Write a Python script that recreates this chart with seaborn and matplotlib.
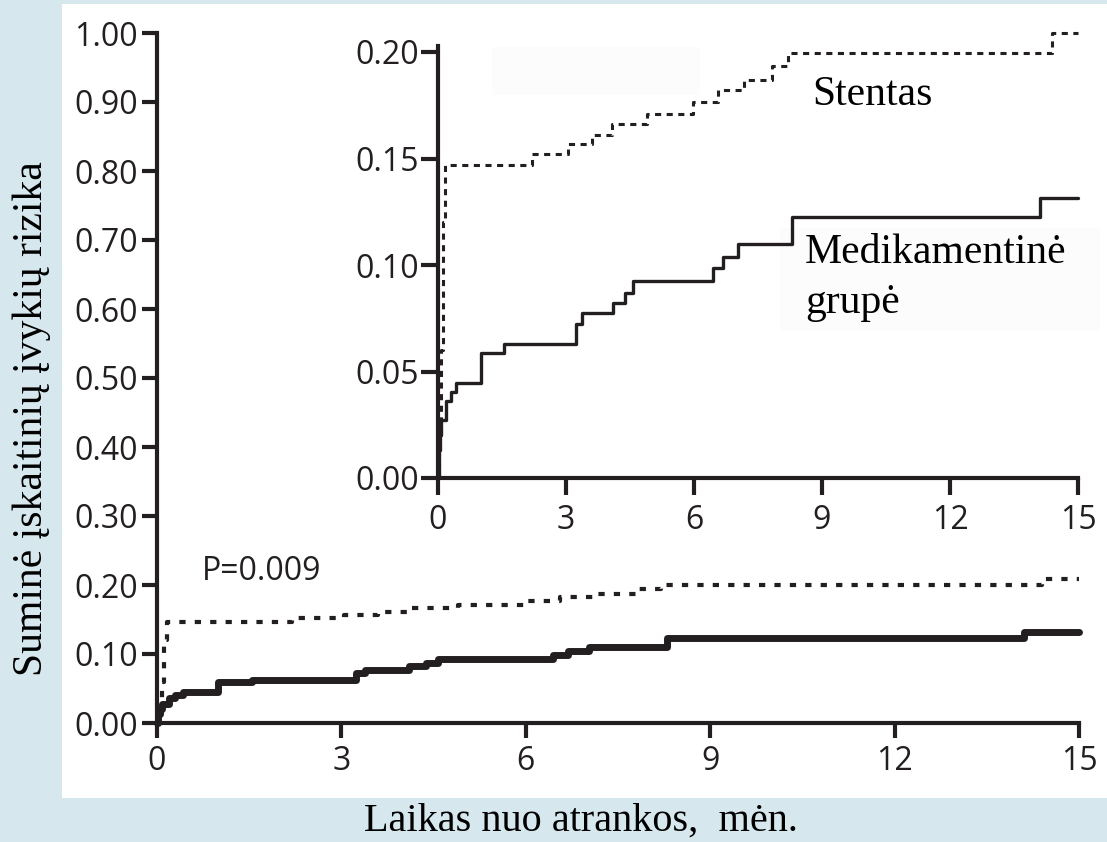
import matplotlib
matplotlib.use("Agg")
import matplotlib.pyplot as plt
import matplotlib.patches as mpatches
import seaborn as sns
import pandas as pd

# ---- data ----
stent_t = [0, 0.03, 0.08, 0.11, 0.17, 2.2, 3.05, 3.6, 4.08, 4.9, 5.98, 6.56,
           7.17, 7.83, 8.2, 14.4, 15]
stent_r = [0, 0.02, 0.06, 0.12, 0.147, 0.152, 0.157, 0.161, 0.166, 0.171,
           0.1765, 0.182, 0.187, 0.1935, 0.1995, 0.209, 0.209]
med_t = [0, 0.02, 0.05, 0.08, 0.19, 0.3, 0.42, 1.0, 1.55, 3.23, 3.38, 4.1,
         4.38, 4.57, 6.45, 6.68, 7.03, 8.3, 14.1, 15]
med_r = [0, 0.013, 0.02, 0.027, 0.036, 0.0404, 0.0446, 0.0587, 0.0629, 0.0723,
         0.0775, 0.082, 0.087, 0.0925, 0.0986, 0.1038, 0.1099, 0.1225, 0.1315,
         0.1315]
x_ticks = [0, 3, 6, 9, 12, 15]
main_y_ticks = [0.0, 0.1, 0.2, 0.3, 0.4, 0.5, 0.6, 0.7, 0.8, 0.9, 1.0]
inset_y_ticks = [0.0, 0.05, 0.10, 0.15, 0.20]
label_stent = "Stentas"
label_med_1 = "Medikamentinė"
label_med_2 = "grupė"
p_text = "P=0.009"
ylabel = "Suminė įskaitinių įvykių rizika"
xlabel = "Laikas nuo atrankos,  mėn."

stent_df = pd.DataFrame({"t": stent_t, "r": stent_r})
med_df = pd.DataFrame({"t": med_t, "r": med_r})

sns.set_theme(style="ticks")
INK = "#231f20"
SANS = ["Open Sans", "DejaVu Sans"]
SERIF = ["Liberation Serif", "DejaVu Serif"]

W, H = 1107, 842
fig = plt.figure(figsize=(W / 100, H / 100), dpi=100)
fig.patch.set_facecolor("#d6e8ed")

def px_rect(x0, y0, x1, y1, color, z=-2):
    fig.patches.append(mpatches.Rectangle((x0 / W, 1 - y1 / H), (x1 - x0) / W,
                                          (y1 - y0) / H, transform=fig.transFigure,
                                          facecolor=color, edgecolor="none", zorder=z))

px_rect(62, 4, 1107, 798, "white", -3)
px_rect(492, 47, 700, 95, "#fcfcfc")
px_rect(780, 228, 1100, 330, "#fcfcfc")

def style_axes(ax, yticks, yfmt, tick_len, pad_x, pad_y):
    for s in ["top", "right"]:
        ax.spines[s].set_visible(False)
    for s in ["left", "bottom"]:
        ax.spines[s].set_linewidth(3)
        ax.spines[s].set_color(INK)
        ax.spines[s].set_capstyle("projecting")
    ax.set_facecolor("none")
    ax.set_xticks(x_ticks)
    ax.set_xticklabels([str(v) for v in x_ticks])
    ax.set_yticks(yticks)
    ax.set_yticklabels([yfmt.format(v) for v in yticks])
    ax.tick_params(axis="both", direction="out", length=tick_len, width=3,
                   color=INK, labelcolor=INK, labelsize=23)
    ax.tick_params(axis="x", pad=pad_x)
    ax.tick_params(axis="y", pad=pad_y)
    for lab in ax.get_xticklabels() + ax.get_yticklabels():
        lab.set_family(SANS)
    ax.set_xlabel("")
    ax.set_ylabel("")
    ax.grid(False)

# ---- main axes ----
ax = fig.add_axes([157 / W, 1 - 723 / H, (1079 - 157) / W, (723 - 33) / H])
sns.lineplot(data=med_df, x="t", y="r", ax=ax, estimator=None, sort=False,
             drawstyle="steps-post", color=INK, linewidth=5,
             solid_capstyle="round", solid_joinstyle="round", clip_on=False)
sns.lineplot(data=stent_df, x="t", y="r", ax=ax, estimator=None, sort=False,
             drawstyle="steps-post", color=INK, linewidth=3,
             linestyle=(0, (1.5, 2.2)), clip_on=False)
ax.set_xlim(0, 15)
ax.set_ylim(0, 1)
style_axes(ax, main_y_ticks, "{:.2f}", 11, 5, 3)
ax.text(0.73, 0.207, p_text, family=SANS, fontsize=23, color=INK, va="baseline")

# ---- inset axes ----
ytop = 0.203
ins = fig.add_axes([438 / W, 1 - 478 / H, (1078 - 438) / W, (ytop * 2130) / H])
sns.lineplot(data=med_df, x="t", y="r", ax=ins, estimator=None, sort=False,
             drawstyle="steps-post", color=INK, linewidth=2.4, clip_on=False)
sns.lineplot(data=stent_df, x="t", y="r", ax=ins, estimator=None, sort=False,
             drawstyle="steps-post", color=INK, linewidth=2.2,
             linestyle=(0, (2.0, 1.8)), clip_on=False)
ins.set_xlim(0, 15)
ins.set_ylim(0, ytop)
style_axes(ins, inset_y_ticks, "{:.2f}", 12, 7, 2)
ins.text(8.77, 0.175, label_stent, family=SERIF, fontsize=30, color="black",
         va="baseline")
ins.text(8.6, 0.101, label_med_1, family=SERIF, fontsize=30, color="black",
         va="baseline")
ins.text(8.6, 0.0775, label_med_2, family=SERIF, fontsize=30, color="black",
         va="baseline")

# ---- axis titles ----
fig.text(32 / W, 1 - 419 / H, ylabel, rotation=90, family=SERIF, fontsize=30,
         color="black", ha="center", va="center")
fig.text(581 / W, 1 - 821 / H, xlabel, family=SERIF, fontsize=29,
         color="black", ha="center", va="center")

fig.savefig("out.png", dpi=100, facecolor=fig.get_facecolor())
